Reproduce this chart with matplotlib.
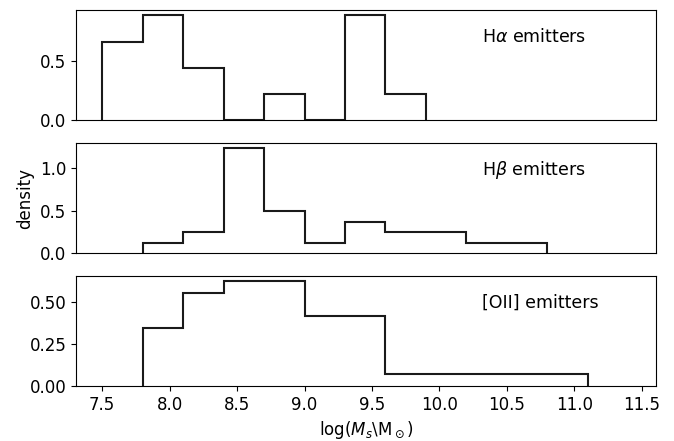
import matplotlib
matplotlib.use("Agg")
import matplotlib.pyplot as plt

ha_edges = [7.5, 7.8, 8.1, 8.4, 8.7, 9.0, 9.3, 9.6, 9.9]
ha_density = [0.667, 0.889, 0.444, 0.0, 0.222, 0.0, 0.889, 0.222]

hb_edges = [7.8, 8.1, 8.4, 8.7, 9.0, 9.3, 9.6, 9.9, 10.2, 10.5, 10.8]
hb_density = [0.123, 0.247, 1.235, 0.494, 0.123, 0.370, 0.247, 0.247, 0.123, 0.123]

oii_edges = [7.8, 8.1, 8.4, 9.0, 9.6, 11.1]
oii_density = [0.345, 0.555, 0.625, 0.415, 0.07]

labels = [r"H$\alpha$ emitters", r"H$\beta$ emitters", "[OII] emitters"]

plt.rcParams['font.size'] = 12
fig, axes = plt.subplots(3, 1, figsize=(6.74, 4.41), dpi=100, sharex=True)
fig.subplots_adjust(left=0.113, right=0.973, top=0.977, bottom=0.125, hspace=0.21)

data = [(ha_edges, ha_density), (hb_edges, hb_density), (oii_edges, oii_density)]
color = '#1a1a1a'
for ax, (e, d), lab in zip(axes, data, labels):
    ax.stairs(d, e, color=color, linewidth=1.5)
    ax.text(0.70, 0.755, lab, transform=ax.transAxes, va='center', ha='left',
            fontsize=12.5)
    ax.set_ylim(bottom=0)

for ax in axes[:2]:
    ax.tick_params(axis='x', bottom=False, labelbottom=False)

axes[0].set_yticks([0.0, 0.5])
axes[1].set_yticks([0.0, 0.5, 1.0])
axes[2].set_yticks([0.0, 0.25, 0.5])
axes[2].set_yticklabels(['0.00', '0.25', '0.50'])
axes[0].set_yticklabels(['0.0', '0.5'])
axes[1].set_yticklabels(['0.0', '0.5', '1.0'])
axes[2].set_xlim(7.307, 11.604)
axes[2].set_xticks([7.5, 8.0, 8.5, 9.0, 9.5, 10.0, 10.5, 11.0, 11.5])
axes[1].set_ylabel('density')
axes[2].set_xlabel(r'log($M_s$\M$_\odot$)')

fig.savefig('out.png', dpi=100)
